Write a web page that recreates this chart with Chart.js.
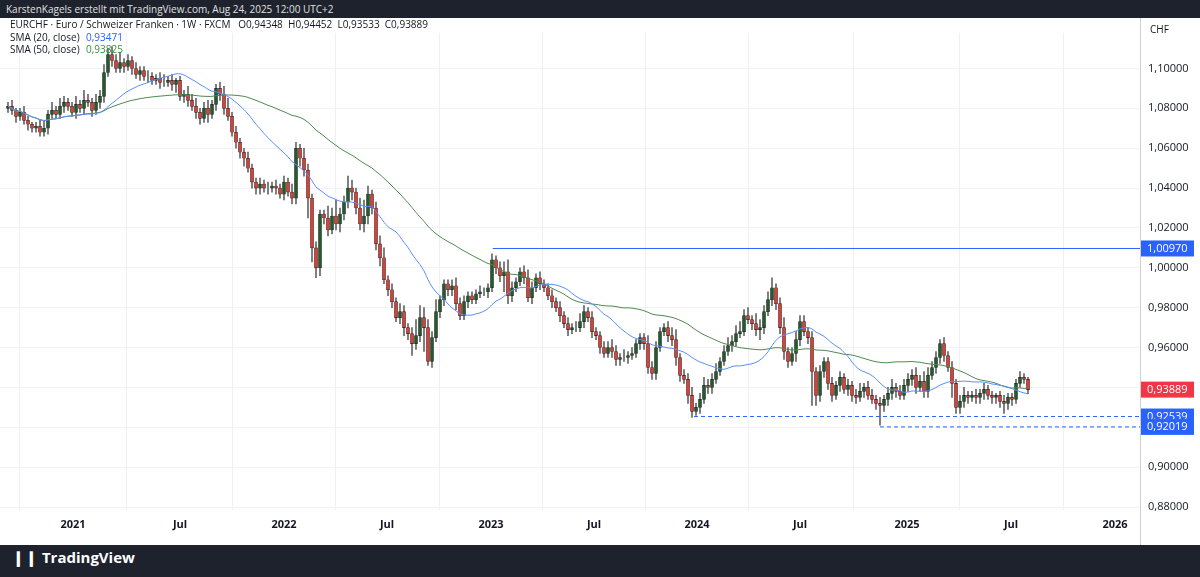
<!DOCTYPE html>
<html><head><meta charset="utf-8">
<script src="https://cdn.jsdelivr.net/npm/chart.js@4"></script>
<style>
body{margin:0;width:1200px;height:577px;background:#fff;overflow:hidden;font-family:"Open Sans",Roboto,sans-serif}
#hdr{position:absolute;left:0;top:0;width:1200px;height:18px;background:#1e222d;color:#e0e0e0;font-size:10px;line-height:18px;padding-left:6px;box-sizing:border-box}
#ftr{position:absolute;left:0;top:545px;width:1200px;height:32px;background:#1e222d;color:#fff;font-size:15px;font-weight:bold;line-height:24px;padding-left:12px;box-sizing:border-box}
#wrap{position:absolute;left:0;top:18px;width:1200px;height:527px}
#sep{position:absolute;left:1140px;top:18px;width:1px;height:527px;background:#d0d0d0}
</style></head><body>
<div id="hdr">KarstenKagels erstellt mit TradingView.com, Aug 24, 2025 12:00 UTC+2</div>
<div id="wrap"><canvas id="c"></canvas></div>
<div id="sep"></div>
<div id="ftr">&#x2759;&#x2759; TradingView</div>
<script>
const closes=[1.081,1.079,1.076,1.078,1.074,1.072,1.070,1.071,
1.068,1.070,1.077,1.079,1.077,1.081,1.083,1.081,
1.078,1.082,1.080,1.084,1.083,1.079,1.083,1.086,
1.098,1.107,1.104,1.100,1.103,1.101,1.104,1.100,
1.097,1.099,1.096,1.096,1.094,1.095,1.093,1.093,
1.094,1.092,1.094,1.086,1.087,1.084,1.081,1.078,
1.075,1.080,1.077,1.082,1.090,1.087,1.080,1.076,
1.068,1.063,1.058,1.055,1.050,1.043,1.040,1.042,
1.040,1.040,1.041,1.040,1.037,1.043,1.038,1.035,
1.060,1.055,1.049,1.035,1.010,1.000,1.027,1.025,
1.019,1.026,1.022,1.027,1.033,1.040,1.038,1.030,
1.022,1.026,1.037,1.030,1.012,1.005,0.994,0.989,
0.983,0.975,0.978,0.970,0.967,0.962,0.966,0.975,
0.970,0.953,0.965,0.978,0.984,0.992,0.989,0.991,
0.982,0.976,0.983,0.986,0.984,0.987,0.988,0.988,
0.990,1.004,1.000,0.996,0.998,0.986,0.990,0.993,
0.998,0.995,0.985,0.990,0.995,0.992,0.990,0.986,
0.983,0.980,0.976,0.972,0.969,0.970,0.970,0.973,
0.978,0.975,0.968,0.966,0.960,0.957,0.960,0.958,
0.954,0.955,0.955,0.956,0.957,0.962,0.965,0.962,
0.950,0.947,0.960,0.968,0.970,0.966,0.964,0.955,
0.946,0.944,0.936,0.928,0.930,0.934,0.941,0.940,
0.944,0.948,0.953,0.958,0.961,0.963,0.967,0.968,
0.976,0.974,0.972,0.969,0.970,0.978,0.984,0.990,
0.982,0.970,0.958,0.953,0.957,0.964,0.973,0.968,
0.965,0.948,0.936,0.948,0.953,0.942,0.936,0.941,
0.945,0.939,0.941,0.936,0.935,0.938,0.940,0.936,
0.934,0.932,0.931,0.934,0.937,0.940,0.938,0.936,
0.941,0.944,0.946,0.940,0.943,0.938,0.946,0.950,
0.955,0.962,0.956,0.950,0.942,0.930,0.933,0.936,
0.935,0.936,0.935,0.937,0.939,0.936,0.935,0.936,
0.933,0.932,0.935,0.934,0.942,0.945,0.944,0.93889];
// wick extension beyond body, in thousandths
const wickHi=[2,3,1,2,3,2,1,2,
3,4,2,4,2,4,3,2,
2,4,2,5,3,2,4,3,
4,3,4,3,5,2,3,2,
3,2,2,3,2,2,3,4,
2,3,1,2,2,4,3,4,
2,3,4,2,2,3,4,5,
2,3,2,2,3,2,2,3,
2,3,2,3,2,3,2,4,
3,2,5,3,2,3,2,2,
6,4,8,3,3,6,4,2,
5,8,4,2,3,4,5,2,
3,2,4,3,2,3,8,6,
5,4,3,6,2,2,2,3,
4,3,3,2,2,2,3,2,
2,3,2,3,5,6,3,2,
2,3,4,3,2,3,2,2,
3,2,3,2,3,2,3,4,
3,2,3,2,2,3,3,4,
3,2,4,2,3,2,2,2,
4,3,3,2,2,3,4,5,
2,3,3,4,2,3,4,3,
3,4,2,3,4,3,4,5,
3,4,2,5,4,3,4,5,
2,3,5,2,3,4,3,3,
2,3,2,3,2,2,3,2,
3,2,3,2,3,4,2,3,
3,2,3,2,3,4,2,3,
3,3,3,4,3,5,4,3,
3,2,3,2,3,2,3,4,
2,2,3,2,3,2,2,1,
2,3,2,2,2,3,2,1];
const wickLo=[2,2,3,2,2,3,2,2,
2,2,3,2,2,2,3,2,
2,3,2,3,2,3,2,3,
3,2,3,2,2,3,2,3,
2,3,2,3,2,2,3,2,
2,3,4,2,3,3,2,3,
3,2,4,2,3,3,3,2,
2,3,3,4,2,3,3,3,
2,3,2,3,2,3,2,3,
3,4,3,10,7,5,4,3,
3,2,3,4,3,3,4,3,
3,4,4,3,3,4,2,3,
3,2,3,4,3,6,3,3,
12,2,3,2,3,3,3,3,
3,2,2,3,2,2,2,2,
3,2,3,3,8,4,3,2,
2,3,2,3,2,3,2,2,
3,2,3,2,3,2,2,2,
3,2,3,2,3,2,2,3,
3,3,2,3,2,2,3,3,
3,3,3,2,2,3,3,4,
3,2,4,3,2,3,2,3,
3,2,2,2,2,3,2,2,
2,2,3,3,5,3,2,3,
3,3,4,3,2,4,3,2,
3,17,5,3,3,3,3,2,
3,2,3,3,3,2,3,2,
2,3,10,3,3,3,3,2,
2,3,3,3,2,3,3,2,
3,3,3,2,7,3,3,3,
3,2,3,3,3,2,3,3,
3,5,3,3,2,2,2,2];
const tickPos=[16.25,43,69,94.75,120.75,146.5,172.25,198,224.75,250.75,276.75];
const tickText=["2021","Jul","2022","Jul","2023","Jul","2024","Jul","2025","Jul","2026"];
const levelHigh=1.00970, levelLow1=0.92539, levelLow2=0.92019, lastClose=0.93889;
const levelHighStart=121.2, levelLow1Start=171.5, levelLow2Start=218;

const opens=closes.map((c,i)=>i===0?1.080:closes[i-1]);
const green='#1f5e2b', red='#e53b30';
const bodies=closes.map((c,i)=>({x:i,y:[opens[i],c]}));
const wicks=closes.map((c,i)=>({x:i,y:[Math.min(opens[i],c)-(wickLo[i]||0)/1000,Math.max(opens[i],c)+(wickHi[i]||0)/1000]}));
const colr=closes.map((c,i)=>c>=opens[i]?green:red);
function sma(n){return closes.map((c,i)=>{const s=closes.slice(Math.max(0,i-n+1),i+1);return {x:i,y:s.reduce((a,b)=>a+b,0)/s.length};});}
const fmt=v=>v.toFixed(5).replace('.',',');
const last=closes.length-1;

const overlay={id:'ov',afterDraw(ch){
 const c=ch.ctx,y=ch.scales.y;
 c.save();c.font='10px "Open Sans",sans-serif';c.textBaseline='middle';
 c.fillStyle='#131722';
 c.fillText('EURCHF · Euro / Schweizer Franken · 1W · FXCM   O0,94348  H0,94452  L0,93533  C0,93889',10,7);
 c.fillText('SMA (20, close)',10,20);c.fillStyle='#2962ff';c.fillText('0,93471',86,20);
 c.fillStyle='#131722';c.fillText('SMA (50, close)',10,32);c.fillStyle='#388e3c';c.fillText('0,93825',86,32);
 c.fillStyle='#131722';c.fillText('CHF',1150,12);
 const box=(v,col)=>{const py=y.getPixelForValue(v);c.fillStyle=col;c.fillRect(1141,py-8,53,16);c.fillStyle='#fff';c.font='11px "Open Sans",sans-serif';c.fillText(fmt(v),1147,py);};
 box(levelHigh,'#2962ff');box(lastClose,'#f23645');box(levelLow1,'#2962ff');box(levelLow2,'#2962ff');
 c.restore();}};

new Chart(document.getElementById('c'),{
 data:{datasets:[
  {type:'line',data:[{x:levelHighStart,y:levelHigh},{x:290,y:levelHigh}],borderColor:'#2962ff',borderWidth:1,pointRadius:0,order:5},
  {type:'line',data:[{x:levelLow1Start,y:levelLow1},{x:290,y:levelLow1}],borderColor:'#2962ff',borderWidth:1,borderDash:[4,3],pointRadius:0,order:5},
  {type:'line',data:[{x:levelLow2Start,y:levelLow2},{x:290,y:levelLow2}],borderColor:'#2962ff',borderWidth:1,borderDash:[4,3],pointRadius:0,order:5},
  {type:'line',data:sma(20),borderColor:'#5b8ff9',borderWidth:1,pointRadius:0,tension:0.3,order:1},
  {type:'line',data:sma(50),borderColor:'#4f8a4f',borderWidth:1,pointRadius:0,tension:0.3,order:1},
  {type:'bar',data:wicks,backgroundColor:'#666',barThickness:1,grouped:false,order:3},
  {type:'bar',data:bodies,backgroundColor:colr,borderColor:'#222',borderWidth:0.6,borderSkipped:false,barThickness:3,grouped:false,order:2}
 ]},
 options:{responsive:true,maintainAspectRatio:false,animation:false,
  plugins:{legend:{display:false},tooltip:{enabled:false}},
  scales:{
   x:{type:'linear',offset:false,min:-2,max:283,grid:{color:'#eef0f3',drawTicks:false},border:{display:false},
    afterBuildTicks:s=>{s.ticks=tickPos.map(v=>({value:v}));},
    afterFit:s=>{s.height=35;},
    ticks:{color:'#131722',font:{size:11,weight:'bold',family:'"Open Sans",sans-serif'},maxRotation:0,autoSkip:false,padding:8,
      callback:(v,i)=>tickText[i]}},
   y:{position:'right',min:0.8785,max:1.118,grid:{color:'#f0f2f5',drawTicks:false},border:{display:false},
    afterBuildTicks:s=>{const t=[];for(let k=0;k<=11;k++)t.push({value:0.88+k*0.02});s.ticks=t;},
    afterFit:s=>{s.width=60;},
    ticks:{color:'#131722',font:{size:11,family:'"Open Sans",sans-serif'},padding:8,callback:v=>fmt(v)}}
  }},
 plugins:[overlay]});
</script></body></html>
